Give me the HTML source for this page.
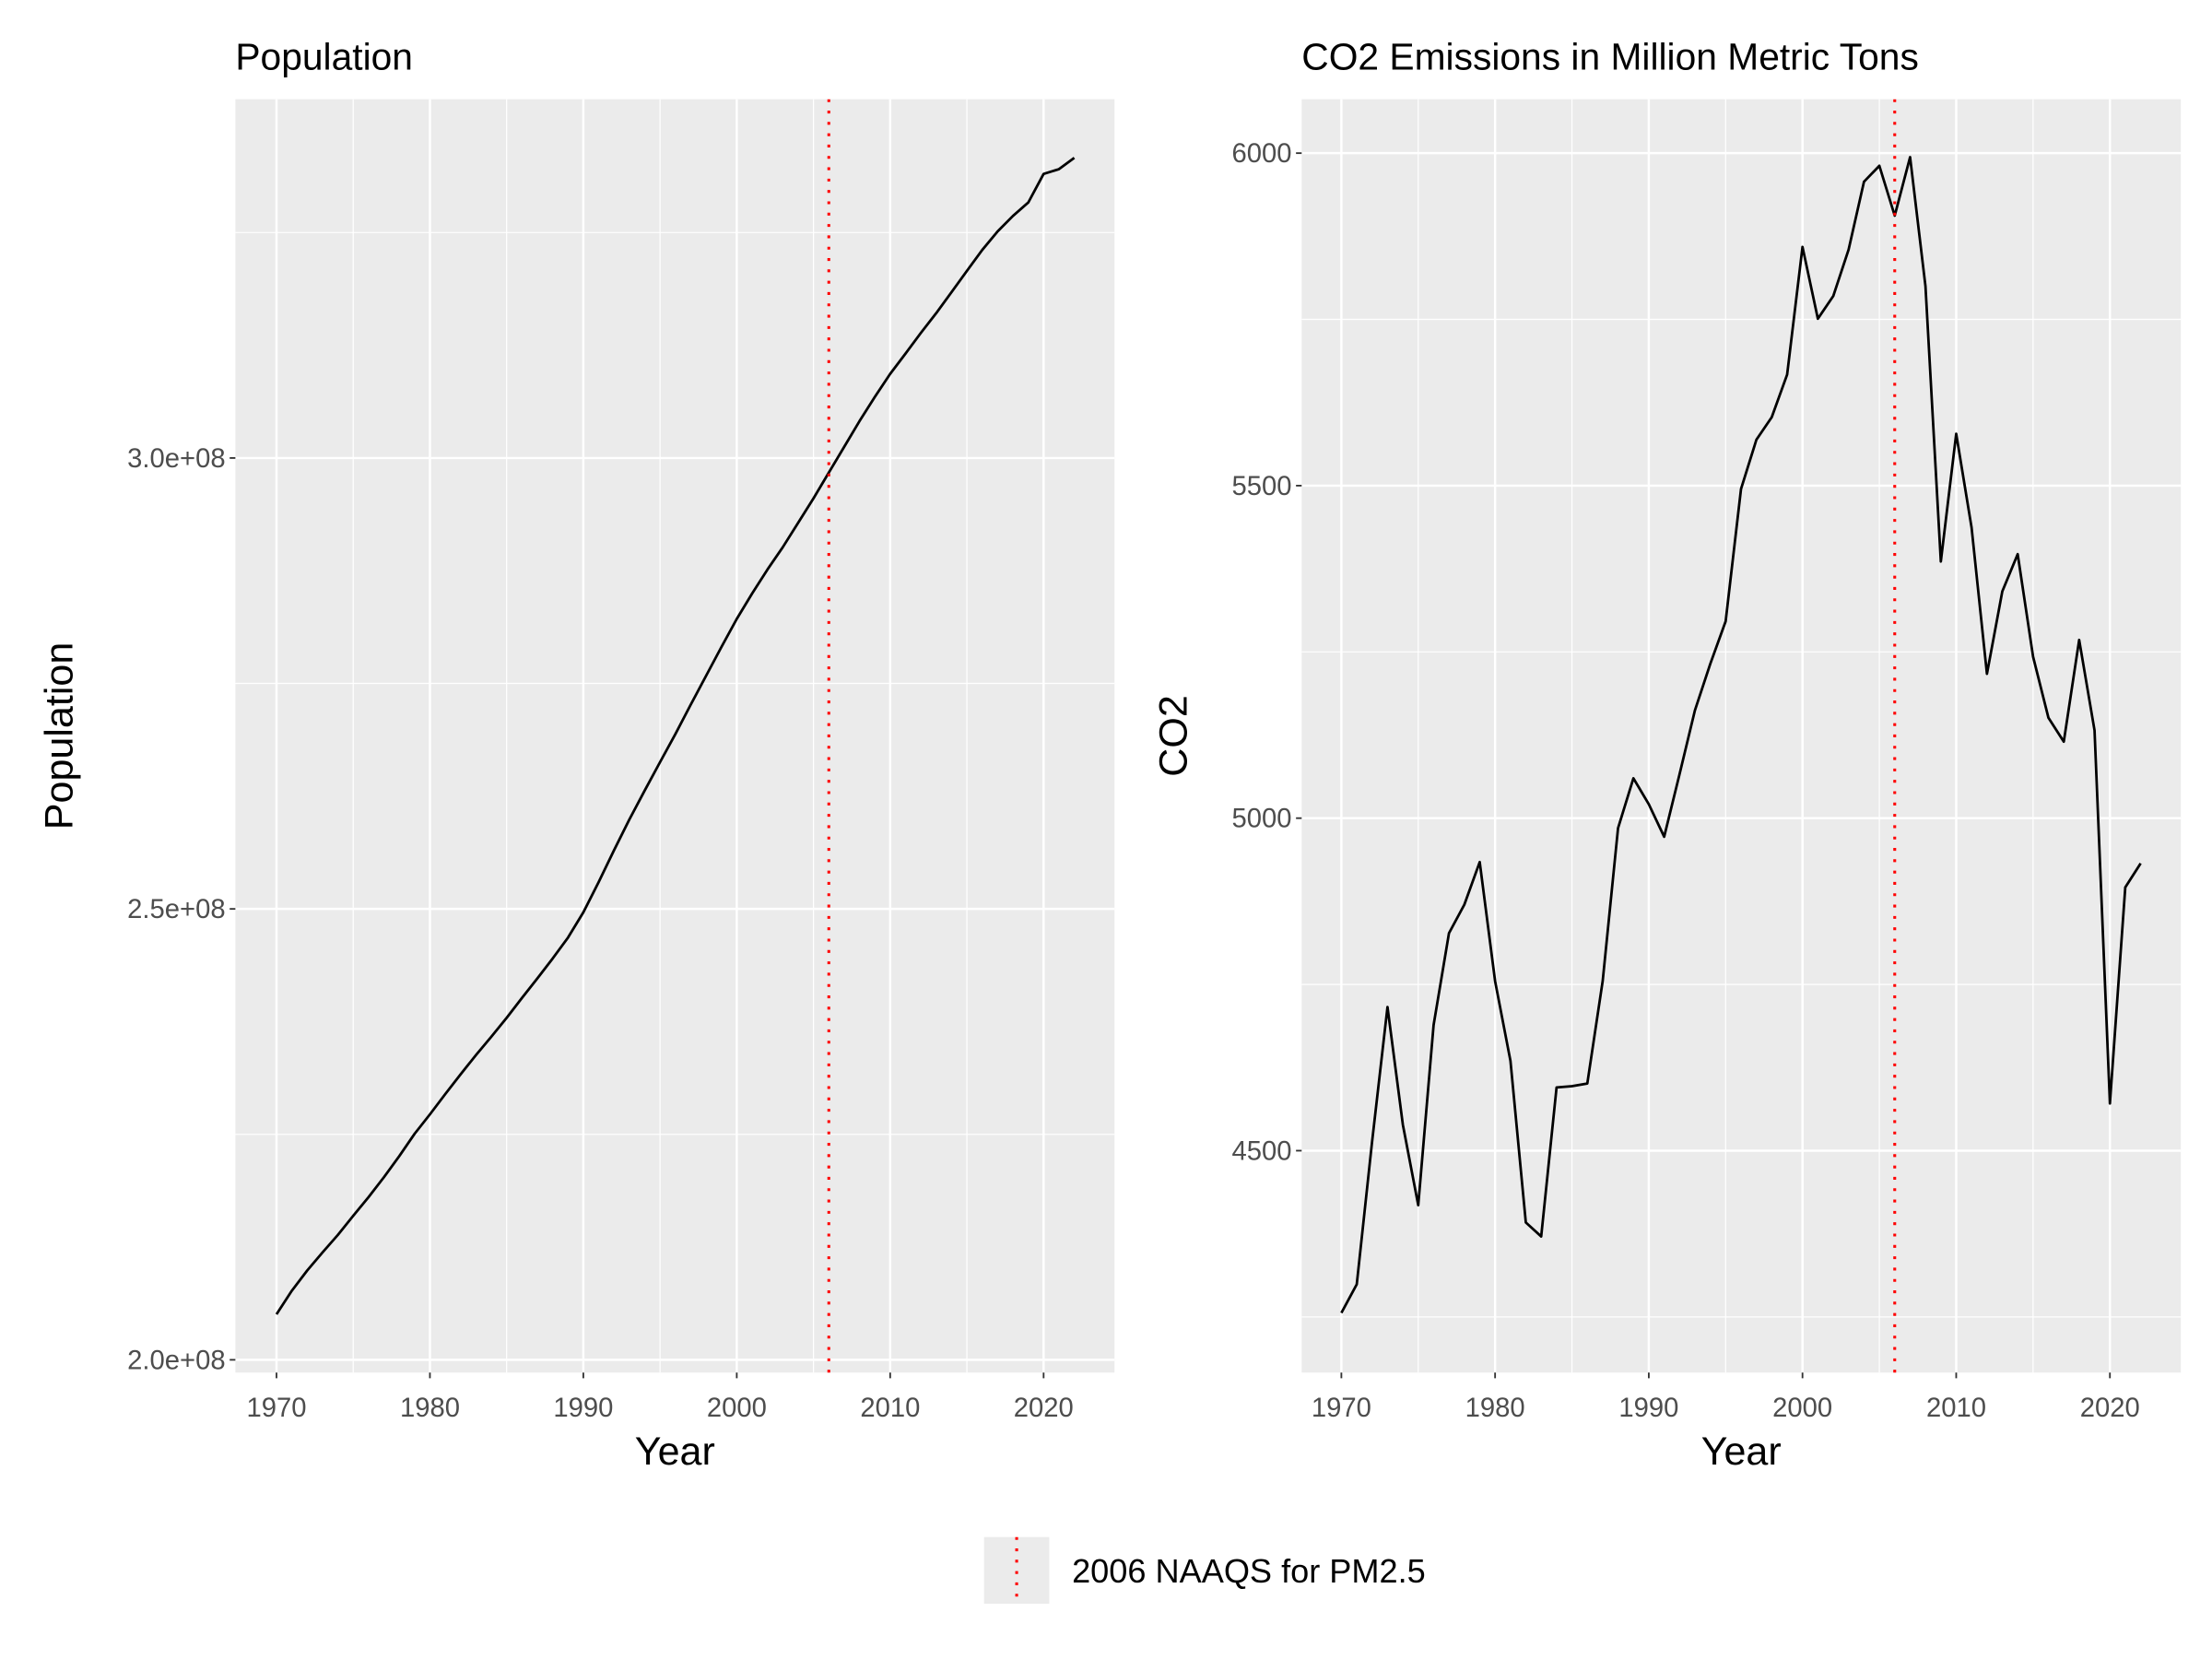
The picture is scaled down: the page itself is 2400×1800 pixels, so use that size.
<!DOCTYPE html>
<html><head><meta charset="utf-8"><style>
html,body{margin:0;padding:0;background:#fff}
svg{display:block;font-family:"Liberation Sans",Arial,sans-serif}
</style></head><body>
<svg id="chart" width="2400" height="1800" viewBox="0 0 1560 1170" xmlns="http://www.w3.org/2000/svg"></svg>
<script>
const years = [];
for (let y = 1970; y <= 2022; y++) years.push(y);
const popValues = [205.05,207.66,209.90,211.91,213.85,215.97,218.04,220.24,222.58,225.06,227.22,229.47,231.66,233.79,235.82,237.92,240.13,242.29,244.50,246.82,249.62,252.98,256.51,259.92,263.13,266.28,269.39,272.65,275.85,279.04,282.16,284.97,287.63,290.11,292.81,295.52,298.38,301.23,304.09,306.77,309.33,311.58,313.87,316.06,318.39,320.74,323.07,325.12,326.84,328.33,331.50,332.03,333.29];
const co2Values = [4256,4299,4514,4716,4539,4418,4689,4827,4870,4934,4755,4635,4392,4371,4595,4597,4601,4755,4985,5060,5021,4972,5066,5162,5232,5296,5495,5569,5603,5667,5859,5751,5785,5855,5957,5981,5906,5994,5800,5386,5578,5437,5217,5341,5397,5243,5151,5115,5268,5132,4571,4896,4932];
const xTicks = [1970,1980,1990,2000,2010,2020];
const xMinor = [1975,1985,1995,2005,2015];
const popTicks = [200,250,300];
const popTickLabels = ["2.0e+08","2.5e+08","3.0e+08"];
const popMinor = [225,275,325];
const co2Ticks = [4500,5000,5500,6000];
const co2TickLabels = ["4500","5000","5500","6000"];
const co2Minor = [4250,4750,5250,5750];
const vlineYear = 2006;

const NS = "http://www.w3.org/2000/svg";
const svg = document.getElementById('chart');
function mk(tag, attrs, parent) {
  const e = document.createElementNS(NS, tag);
  for (const k in attrs) e.setAttribute(k, attrs[k]);
  (parent || svg).appendChild(e);
  return e;
}
function panel(cfg) {
  const g = mk('g', {});
  
  
  const L = cfg.left, R = cfg.right, T = 70, B = 968;
  const xs = v => cfg.x0px + (v - 1970) * (cfg.x1px - cfg.x0px) / 50;
  const ys = v => cfg.yAt0 + (v - cfg.v0) * (cfg.yAt1 - cfg.yAt0) / (cfg.v1 - cfg.v0);
  const bg = mk('rect', {x: L, y: T, width: R - L, height: B - T, fill: '#ebebeb'}, g);
  
  
  cfg.yMinor.forEach(v => mk('line', {x1: L, x2: R, y1: ys(v), y2: ys(v), stroke: '#fff', 'stroke-width': 0.8}, g));
  xMinor.forEach(v => mk('line', {x1: xs(v), x2: xs(v), y1: T, y2: B, stroke: '#fff', 'stroke-width': 0.8}, g));
  cfg.yTicks.forEach((v, i) => {
    mk('line', {x1: L, x2: R, y1: ys(v), y2: ys(v), stroke: '#fff', 'stroke-width': 1.6}, g);
    mk('line', {x1: L - 4, x2: L, y1: ys(v), y2: ys(v), stroke: '#333', 'stroke-width': 1.2}, g);
    const t = mk('text', {x: L - 7, y: ys(v) + 6.5, 'text-anchor': 'end', 'font-size': 19, fill: '#4d4d4d'}, g);
    t.textContent = cfg.yLabels[i];
    
    
  });
  xTicks.forEach(v => {
    mk('line', {x1: xs(v), x2: xs(v), y1: T, y2: B, stroke: '#fff', 'stroke-width': 1.6}, g);
    mk('line', {x1: xs(v), x2: xs(v), y1: B, y2: B + 4, stroke: '#333', 'stroke-width': 1.2}, g);
    const t = mk('text', {x: xs(v), y: B + 31, 'text-anchor': 'middle', 'font-size': 19, fill: '#4d4d4d'}, g);
    t.textContent = String(v);
    
    
  });
  const d = cfg.values.map((v, i) => (i ? 'L' : 'M') + xs(years[i]).toFixed(2) + ',' + ys(v).toFixed(2)).join(' ');
  const line = mk('path', {d: d, fill: 'none', stroke: '#000', 'stroke-width': 1.8, 'stroke-linejoin': 'round'}, g);
  
  
  const vl = mk('line', {x1: xs(vlineYear), x2: xs(vlineYear), y1: T, y2: B, stroke: '#ff0000', 'stroke-width': 2, 'stroke-dasharray': '2,6'}, g);
  
  
  const ti = mk('text', {x: L, y: 49, 'font-size': 26.5, fill: '#000'}, g);
  ti.textContent = cfg.title;
  
  
  const xt = mk('text', {x: (L + R) / 2, y: 1033, 'text-anchor': 'middle', 'font-size': 28, fill: '#000'}, g);
  xt.textContent = 'Year';
  
  
  const cy = (T + B) / 2;
  const yt = mk('text', {x: cfg.yTitleX, y: cy, 'text-anchor': 'middle', 'font-size': 28, fill: '#000', transform: `rotate(-90 ${cfg.yTitleX} ${cy})`}, g);
  yt.textContent = cfg.yTitle;
  
  
}
panel({name: 'population-panel', lineName: 'population-line', left: 166, right: 786, x0px: 195, x1px: 736,
  v0: 200, v1: 300, yAt0: 959, yAt1: 323, values: popValues, yTicks: popTicks, yLabels: popTickLabels, yMinor: popMinor,
  title: 'Population', yTitle: 'Population', yTitleX: 51});
panel({name: 'co2-panel', lineName: 'co2-line', left: 918, right: 1538, x0px: 946, x1px: 1488,
  v0: 5000, v1: 6000, yAt0: 577, yAt1: 108, values: co2Values, yTicks: co2Ticks, yLabels: co2TickLabels, yMinor: co2Minor,
  title: 'CO2 Emissions in Million Metric Tons', yTitle: 'CO2', yTitleX: 837});

const lg = mk('g', {});


const key = mk('rect', {x: 694, y: 1084, width: 46, height: 47, fill: '#ebebeb'}, lg);


mk('line', {x1: 717, x2: 717, y1: 1084, y2: 1131, stroke: '#ff0000', 'stroke-width': 2, 'stroke-dasharray': '2,6'}, lg);
const lt = mk('text', {x: 756, y: 1116, 'font-size': 23.5, fill: '#000'}, lg);
lt.textContent = '2006 NAAQS for PM2.5';


</script>
</body></html>
